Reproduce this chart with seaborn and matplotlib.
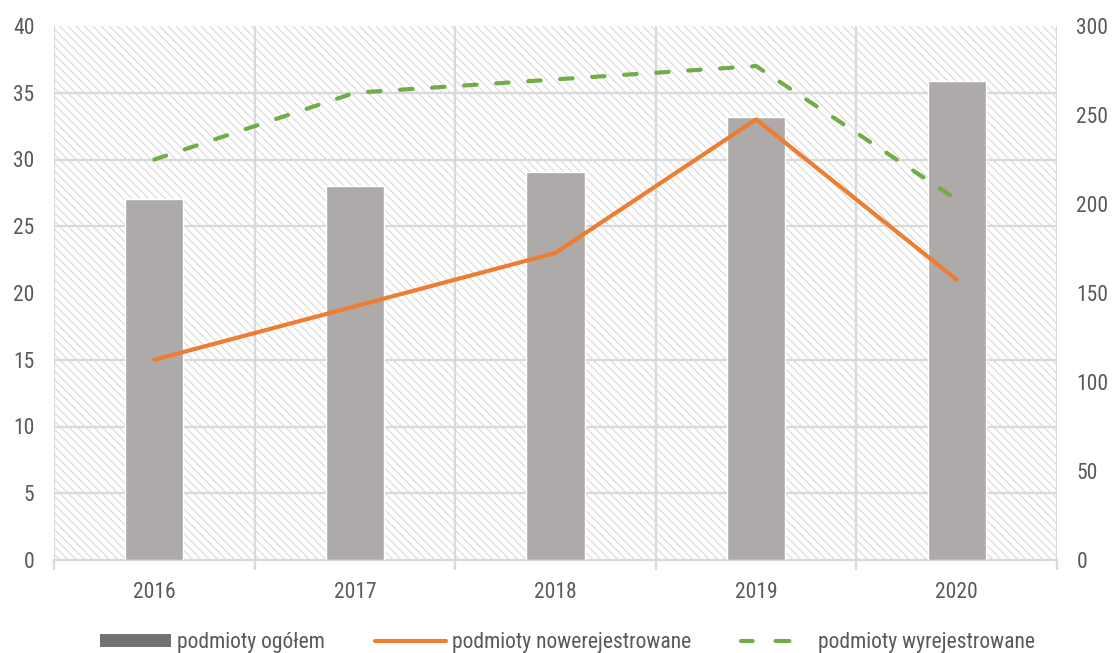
import numpy as np
import pandas as pd
import matplotlib
matplotlib.use("Agg")
import matplotlib.pyplot as plt
import seaborn as sns
from matplotlib.patches import Patch, Rectangle
from matplotlib.lines import Line2D
from matplotlib import font_manager

years = ["2016", "2017", "2018", "2019", "2020"]
ogolem = [203, 210, 218, 249, 269]          # right axis
nowe = [15, 19, 23, 33, 21]                 # left axis
wyrejestrowane = [30, 35, 36, 37, 27]       # left axis
left_ticks = [0, 5, 10, 15, 20, 25, 30, 35, 40]
right_ticks = [0, 50, 100, 150, 200, 250, 300]

sns.set_theme(style="white")
names = {f.name for f in font_manager.fontManager.ttflist}
fam = [f for f in ["Roboto Condensed", "Liberation Sans", "DejaVu Sans"] if f in names]
plt.rcParams["font.family"] = fam
plt.rcParams["hatch.linewidth"] = 0.8

TXT = "#595959"
GRID = "#d9d9d9"
HATCH = "#dadada"
BAR = "#aeaaaa"
ORANGE = "#ed7d31"
GREEN = "#70ad47"
FS = 15.5

fig = plt.figure(figsize=(11.13, 6.53), dpi=100)
ax = fig.add_axes([54/1113, 1-560/653, (1057-54)/1113, (560-26)/653])

# hatched background
ax.add_patch(Rectangle((0, 0), 1, 1, transform=ax.transAxes, facecolor="white",
                       edgecolor=HATCH, lw=0, hatch="\\\\\\\\", zorder=0))

df = pd.DataFrame({"rok": years, "ogolem": ogolem})
sns.barplot(data=df, x="rok", y="ogolem", ax=ax, color=BAR, width=0.29,
            saturation=1, zorder=3)
ax.set_ylim(0, 300)
ax.set_xlim(-0.5, len(years) - 0.5)
ax.set_xlabel("")
ax.set_ylabel("")
ax.set_yticks(right_ticks)
ax.set_yticks(np.linspace(0, 300, len(left_ticks)), minor=True)
ax.grid(False)
ax.grid(True, which="minor", axis="y", color=GRID, lw=1.6, zorder=1)
ax.set_xticks(np.arange(-0.5, len(years)), minor=True)
ax.grid(True, which="minor", axis="x", color=GRID, lw=1.6, zorder=1)
ax.set_axisbelow(True)
ax.tick_params(axis="x", which="major", length=0, labelsize=FS, labelcolor=TXT, pad=16)
ax.tick_params(axis="x", which="minor", length=7, width=1.6, color=GRID, bottom=True)
for s in ["top", "right", "left"]:
    ax.spines[s].set_visible(False)
ax.spines["bottom"].set_color(GRID)
ax.spines["bottom"].set_linewidth(1.6)

ax2 = ax.twinx()
x = np.arange(len(years))
ax2.plot(x, nowe, color=ORANGE, lw=3, solid_capstyle="round", zorder=4)
ax2.plot(x, wyrejestrowane, color=GREEN, lw=3, linestyle=(0, (3, 4.7)),
         dash_capstyle="round", zorder=4)
ax2.set_ylim(0, 40)
ax2.set_yticks(left_ticks)
ax2.yaxis.tick_left()
ax2.tick_params(axis="y", length=0, labelsize=FS, labelcolor=TXT, pad=14,
                left=True, labelleft=True, right=False, labelright=False)
for s in ax2.spines.values():
    s.set_visible(False)
ax2.grid(False)

ax.yaxis.tick_right()
ax.tick_params(axis="y", which="major", length=0, labelsize=FS, labelcolor=TXT, pad=14,
               right=True, labelright=True, left=False, labelleft=False)
ax.tick_params(axis="y", which="minor", length=0, left=False, right=False)

handles = [
    Patch(facecolor="#767171", edgecolor="none"),
    Line2D([0], [0], color=ORANGE, lw=3, solid_capstyle="round"),
    Line2D([0], [0], color=GREEN, lw=3, linestyle=(0.5, (3.3, 5.5)), dash_capstyle="round"),
]
labels = ["podmioty ogółem", "podmioty nowerejestrowane", "podmioty wyrejestrowane"]
fig.legend(handles, labels, loc="lower center", bbox_to_anchor=(0.51, -0.03), ncol=3,
           frameon=False, fontsize=FS, labelcolor=TXT, handlelength=3.3,
           handleheight=0.55, columnspacing=2.3, handletextpad=0.3)

fig.savefig("out.png", dpi=100)
